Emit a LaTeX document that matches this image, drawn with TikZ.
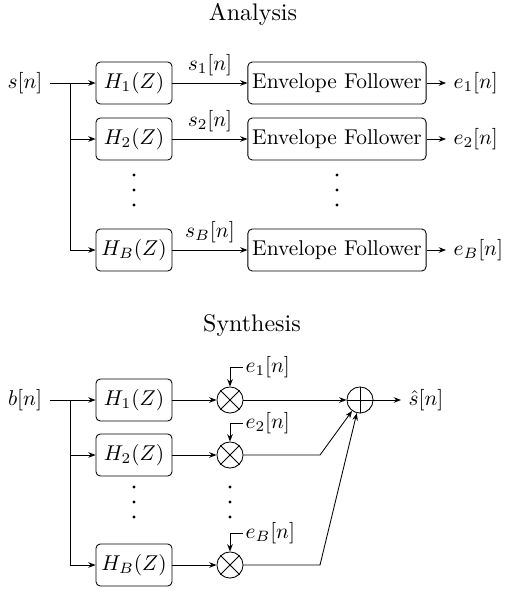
\documentclass[tikz,border=0pt]{standalone}
\usepackage{amsmath}
\usetikzlibrary{arrows.meta}
\begin{document}
\begin{tikzpicture}[x=0.467pt,y=-0.467pt,>={Stealth[length=3.4pt,width=2.6pt]},
    filt/.style={draw,rounded corners=2pt,minimum width=35.5pt,minimum height=19.6pt,inner sep=2pt},
    env/.style={draw,rounded corners=2pt,minimum height=19.6pt,inner sep=2pt},
    mixer/.style={draw,circle,minimum size=12.2pt,inner sep=0pt},
    title/.style={scale=1.12}]
\useasboundingbox (0,0) rectangle (513,592);

% Analysis
\node[title] (ttla) at (253,14) {Analysis};
\node (sin) at (25,83) {$s[n]$};
\coordinate (ja) at (70,83);

\node[filt] (ha1) at (134,83) {$H_1(Z)$};
\node[filt] (ha2) at (134,139) {$H_2(Z)$};
\node[filt] (hab) at (134,250) {$H_B(Z)$};

\node[env] (ev1) at (337,83) {Envelope Follower};
\node[env] (ev2) at (337,139) {Envelope Follower};
\node[env] (evb) at (337,250) {Envelope Follower};

\node[anchor=west] (ea1) at (446,83) {$e_1[n]$};
\node[anchor=west] (ea2) at (446,139) {$e_2[n]$};
\node[anchor=west] (eab) at (446,250) {$e_B[n]$};

\draw (sin) -- (ja);
\draw[->] (ja) -- (ha1);
\draw[->] (ja) |- (ha2);
\draw[->] (ja) |- (hab);

\draw[->] (ha1) -- node[above] {$s_1[n]$} (ev1);
\draw[->] (ha2) -- node[above] {$s_2[n]$} (ev2);
\draw[->] (hab) -- node[above] {$s_B[n]$} (evb);

\draw[->] (ev1) -- (ea1);
\draw[->] (ev2) -- (ea2);
\draw[->] (evb) -- (eab);

\foreach \y in {175,190,205} {
  \fill (134,\y) circle (0.8pt);
  \fill (337,\y) circle (0.8pt);
}

% Synthesis
\node[title] (ttls) at (252,325) {Synthesis};
\node (bin) at (25,400) {$b[n]$};
\coordinate (js) at (70,400);

\node[filt] (hs1) at (134,400) {$H_1(Z)$};
\node[filt] (hs2) at (134,455) {$H_2(Z)$};
\node[filt] (hsb) at (134,565) {$H_B(Z)$};

\node[mixer] (m1) at (230,400) {};
\node[mixer] (m2) at (230,455) {};
\node[mixer] (mb) at (230,565) {};
\foreach \m in {m1,m2,mb}
  \draw (\m.north west) -- (\m.south east) (\m.north east) -- (\m.south west);

\node[mixer] (sum) at (360,400) {};
\draw (sum.north) -- (sum.south) (sum.west) -- (sum.east);

\node[anchor=west,inner sep=1pt] (g1) at (243,367) {$e_1[n]$};
\node[anchor=west,inner sep=1pt] (g2) at (243,423) {$e_2[n]$};
\node[anchor=west,inner sep=1pt] (gb) at (243,533) {$e_B[n]$};

\node[anchor=west] (shat) at (401,400) {$\hat{s}[n]$};

\draw (bin) -- (js);
\draw[->] (js) -- (hs1);
\draw[->] (js) |- (hs2);
\draw[->] (js) |- (hsb);

\draw[->] (hs1) -- (m1);
\draw[->] (hs2) -- (m2);
\draw[->] (hsb) -- (mb);

\draw[->] (g1.west) -| (m1);
\draw[->] (g2.west) -| (m2);
\draw[->] (gb.west) -| (mb);

\coordinate (k2) at (320,455);
\coordinate (kb) at (320,565);
\draw[->] (m1) -- (sum);
\draw[->] (m2) -- (k2) -- (sum);
\draw[->] (mb) -- (kb) -- (sum);
\draw[->] (sum) -- (shat);

\foreach \y in {487,502,517} {
  \fill (134,\y) circle (0.8pt);
  \fill (230,\y) circle (0.8pt);
}
\end{tikzpicture}
\end{document}
